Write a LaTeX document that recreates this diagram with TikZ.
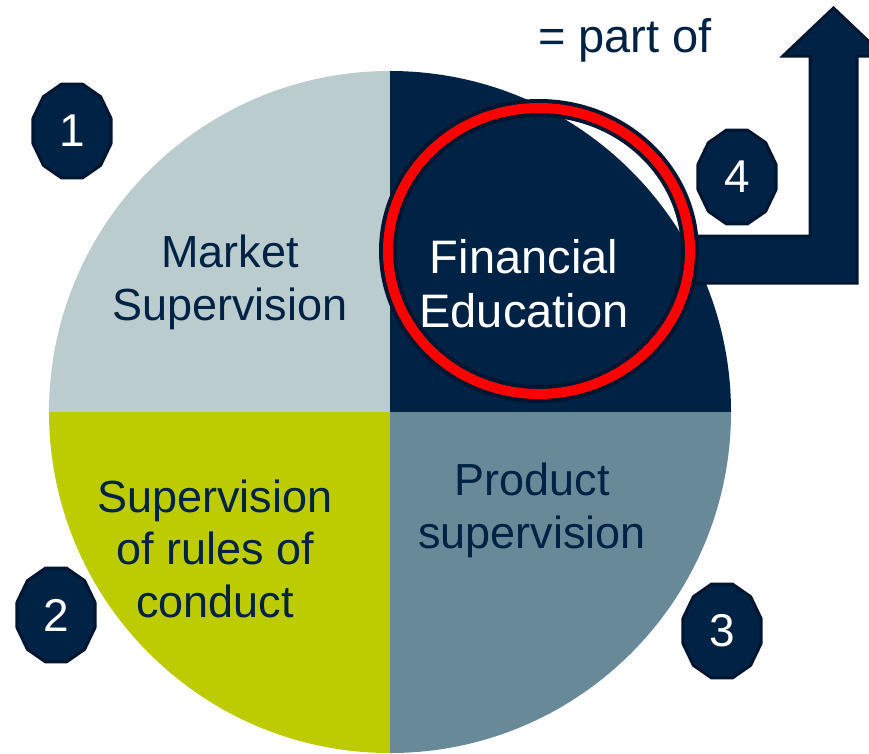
\documentclass[tikz,border=0pt]{standalone}
\usepackage{fontspec}
\setmainfont{Liberation Sans}
\usetikzlibrary{calc}
\definecolor{navy}{RGB}{0,34,68}
\definecolor{navyline}{RGB}{0,22,48}
\definecolor{tlgray}{RGB}{186,204,205}
\definecolor{lime}{RGB}{189,204,0}
\definecolor{slate}{RGB}{103,137,152}
\definecolor{ringred}{RGB}{255,0,0}
\begin{document}
\begin{tikzpicture}[x=1pt,y=-1pt,
  labeltext/.style={font=\fontsize{45}{52.5}\selectfont, align=center, anchor=base, inner sep=0pt},
  bigtext/.style={labeltext, font=\fontsize{47}{54}\selectfont},
  badgenum/.style={font=\fontsize{46}{46}\selectfont, text=white, inner sep=0pt},
  badgeline/.style={fill=navy, draw=navyline, line width=3pt, line join=round}]
\useasboundingbox (0,0) rectangle (869,753);
\coordinate (c) at (390,412);
\begin{scope}
\clip (c) circle[radius=341pt];
\fill[tlgray] (40,60) rectangle (c);
\fill[navy] (740,60) rectangle (c);
\fill[lime] (40,760) rectangle (c);
\fill[slate] (740,760) rectangle (c);
\end{scope}
% arrow
\draw[badgeline, line join=miter] (690,236) -- (810,236) -- (810,56) -- (783,56) -- (833.5,8) -- (884,56) -- (857,56) -- (857,283) -- (690,283) -- cycle;
% ring
\coordinate (r) at (539,251);
\draw[navyline, line width=18pt] (r) ellipse[x radius=151pt, y radius=143pt];
\draw[ringred, line width=10pt] (r) ellipse[x radius=151pt, y radius=143pt];
% badges
\foreach \n/\x/\y in {1/72/131, 2/56/615, 3/722/631, 4/737/177} {
  \draw[badgeline, shift={(\x,\y)}] plot[samples at={15,45,...,345}, variable=\a] (\a:40.4pt and 48.6pt) -- cycle;
  \node[badgenum] (b\n) at (\x,\y) {\n};
}
% texts
\node[labeltext, text=navy] (ms) at (230,320) {Market\\Supervision};
\node[bigtext, text=white] (fe) at (524,327) {Financial\\Education};
\node[labeltext, text=navy] (sr) at (215,617) {Supervision\\of rules of\\conduct};
\node[labeltext, text=navy] (ps) at (532,548) {Product\\supervision};
\node[bigtext, text=navy] (po) at (625,52) {= part of};
\end{tikzpicture}
\end{document}
